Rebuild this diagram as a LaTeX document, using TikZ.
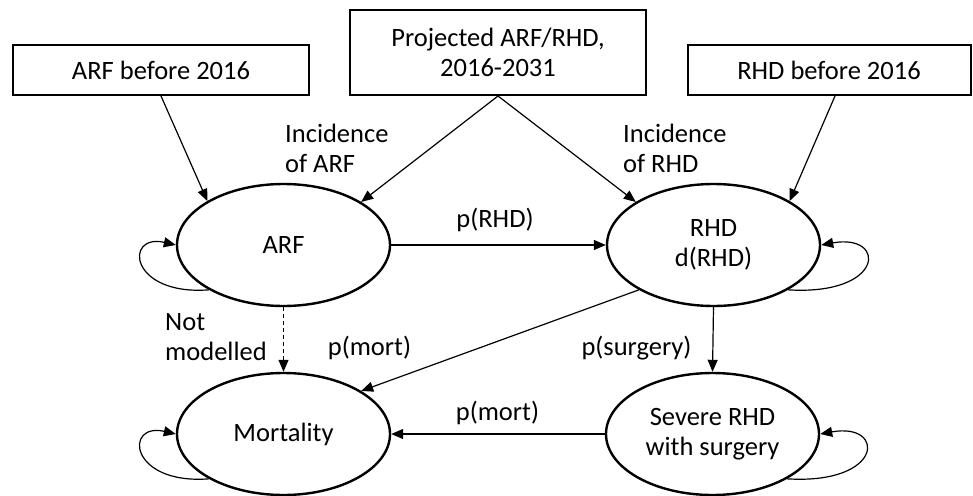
\documentclass[tikz,border=0pt]{standalone}
\usepackage{fontspec}
\setmainfont{Carlito}
\usetikzlibrary{arrows.meta,shapes.geometric}
\begin{document}
\begin{tikzpicture}[x=1pt,y=-1pt,
  every node/.style={font=\fontsize{26.5}{30}\selectfont},
  box/.style={draw, line width=2pt, minimum width=296pt, minimum height=50pt, inner sep=0pt, align=center},
  state/.style={draw, ellipse, line width=2.4pt, minimum width=213pt, minimum height=122pt, inner sep=0pt, align=center},
  conn/.style={line width=1.2pt, -{Triangle[length=12pt,width=10pt]}},
  lbl/.style={inner sep=0pt, align=left}
]
\useasboundingbox (0,0) rectangle (973,495);

\node[box] (b1) at (161,70) {ARF before 2016};
\node[box, minimum height=85pt] (b2) at (498,52.5) {Projected ARF/RHD,\\2016-2031};
\node[box, minimum width=283pt] (b3) at (829,70) {RHD before 2016};

\node[state] (arf) at (283.5,245) {ARF};
\node[state] (rhd) at (713.5,245) {RHD\\d(RHD)};
\node[state] (mort) at (283.5,434) {Mortality};
\node[state] (sev) at (712.5,434) {Severe RHD\\with surgery};

\draw[conn] (b1.south) -- (arf.150);
\draw[conn] (b2.south) -- (arf.29);
\draw[conn] (b2.south) -- (rhd.151);
\draw[conn] ([xshift=6pt]b3.south) -- (rhd.30);

\draw[conn] (arf.east) -- (rhd.west);
\draw[conn, dash pattern=on 4pt off 3pt] (arf.south) -- (mort.north);
\draw[conn] (rhd.211) -- (mort.29);
\draw[conn] (rhd.south) -- (sev.north);
\draw[conn] (sev.west) -- (mort.east);

\draw[conn] (arf.211) .. controls +(-80,6) and +(-52,-12) .. (arf.west);
\draw[conn] (mort.211) .. controls +(-80,6) and +(-52,-12) .. (mort.west);
\draw[conn] (rhd.329) .. controls +(97,6) and +(66,-12) .. (rhd.east);
\draw[conn] (sev.329) .. controls +(97,6) and +(66,-12) .. (sev.east);

\node[lbl, anchor=west] (incarf) at (285,148) {Incidence\\of ARF};
\node[lbl, anchor=west] (incrhd) at (623,148) {Incidence\\of RHD};
\node[lbl] (lprhd) at (495,220) {p(RHD)};
\node[lbl, anchor=west] (notmod) at (165,337) {Not\\modelled};
\node[lbl] (lpmort1) at (369.5,348) {p(mort)};
\node[lbl] (lpsurg) at (636.5,348) {p(surgery)};
\node[lbl] (lpmort2) at (497.5,413) {p(mort)};
\end{tikzpicture}
\end{document}
